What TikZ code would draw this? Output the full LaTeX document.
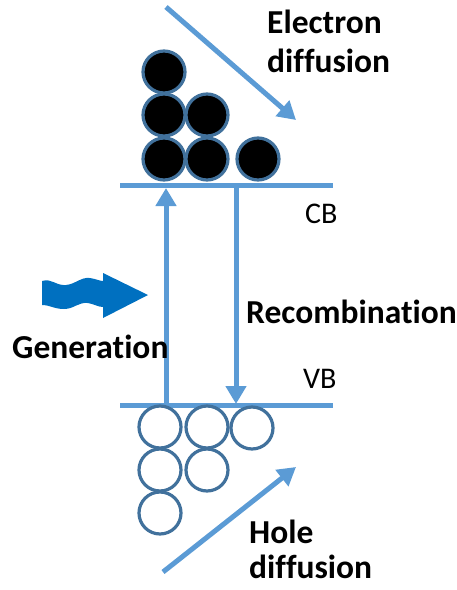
\documentclass[tikz,border=0pt]{standalone}
\usepackage{fontspec}
\setmainfont{Carlito}[RawFeature=-liga]
\usetikzlibrary{arrows.meta}
\definecolor{bandblue}{HTML}{5B9BD5}
\definecolor{edgeblue}{HTML}{41719C}
\definecolor{photonblue}{HTML}{0070C0}
\tikzset{
  band/.style={draw=bandblue,line width=5pt},
  flow/.style={draw=bandblue,line width=5pt,-{Triangle[length=18pt,width=20pt]}},
  electron/.style={draw=edgeblue,line width=3.2pt,fill=black},
  hole/.style={draw=edgeblue,line width=3.2pt,fill=white},
  lbl/.style={font=\fontsize{33.5}{39}\selectfont\bfseries,inner sep=0pt,anchor=base west,align=left},
  lvl/.style={font=\fontsize{30}{36}\selectfont,inner sep=0pt,anchor=base west}
}
\begin{document}
\begin{tikzpicture}[x=1pt,y=-1pt]
  \useasboundingbox (0,0) rectangle (457,590);
  % band edges
  \coordinate (cbL) at (120,185);
  \coordinate (cbR) at (333,185);
  \coordinate (vbL) at (120,405);
  \coordinate (vbR) at (333,405);
  \draw[band] (cbL) -- (cbR);
  \draw[band] (vbL) -- (vbR);
  \node[lvl] (cb) at (305,223) {CB};
  \node[lvl] (vb) at (303,388) {VB};
  % electrons and holes
  \foreach \cx/\cy [count=\i] in {164/72,164/115,207/115,164/159,207/159,258/159}
    \draw[electron] (\cx,\cy) circle (21pt) coordinate (e\i);
  \foreach \cx/\cy [count=\i] in {160/427,207/427,252/428,160/470,207/470,160/513}
    \draw[hole] (\cx,\cy) circle (21pt) coordinate (h\i);
  % generation and recombination
  \coordinate (genS) at (166,403);
  \coordinate (genE) at (166,188);
  \coordinate (recS) at (236,187);
  \coordinate (recE) at (236,404);
  \draw[flow] (genS) -- (genE);
  \draw[flow] (recS) -- (recE);
  % diffusion
  \coordinate (elS) at (166,7);
  \coordinate (elE) at (296,120);
  \coordinate (hoS) at (163,572);
  \coordinate (hoE) at (296,467);
  \draw[flow] (elS) -- (elE);
  \draw[flow] (hoS) -- (hoE);
  % photon
  \fill[photonblue] (42,281) .. controls (52,278) and (56,286) .. (66,285)
    .. controls (76,284) and (80,277) .. (90,278) .. controls (96,279) and (100,281) .. (103,281)
    -- (103,273) -- (148,295) -- (103,318) -- (103,307)
    .. controls (98,307) and (94,304) .. (88,303) .. controls (78,302) and (74,309) .. (64,309)
    .. controls (54,309) and (50,305) .. (42,305) -- cycle;
  % labels
  \node[lbl] (eldiff) at (267,72) {Electron\\diffusion};
  \node[lbl] (recomb) at (246,323) {Recombination};
  \node[lbl] (gen) at (12,358) {Generation};
  \node[lbl] (hodiff) at (249,578) {Hole\\[-4pt]diffusion};
\end{tikzpicture}
\end{document}
